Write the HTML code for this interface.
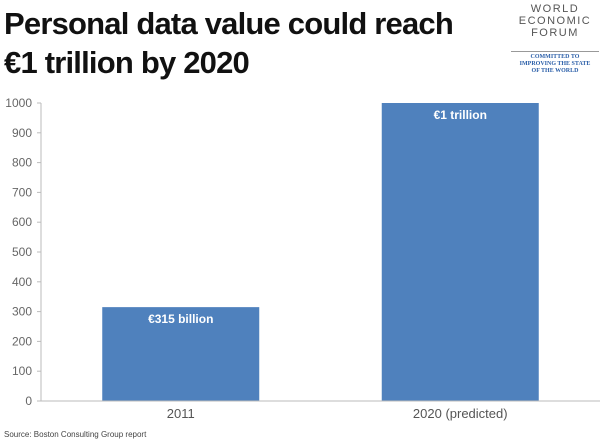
<!DOCTYPE html>
<html><head><style>
body{margin:0;width:605px;height:444px;background:#fff;overflow:hidden;font-family:"Liberation Sans",sans-serif;}
#title{position:absolute;left:4px;top:4px;font-size:31px;font-weight:bold;line-height:39px;color:#111;letter-spacing:-0.8px;margin:0}
#logo{position:absolute;left:505px;top:3px;width:100px;text-align:center;color:#555;font-size:11px;line-height:12px;letter-spacing:1.5px}
#logo .c{font-family:"Liberation Serif",serif;font-size:6px;line-height:7px;color:#2a5ea8;letter-spacing:0;border-top:1px solid #999;margin:12px 6px 0 6px;padding-top:2px;font-weight:bold}
#src{position:absolute;left:4px;top:430px;font-size:8px;color:#444}
</style></head><body>
<h1 id="title">Personal data value could reach<br>€1 trillion by 2020</h1>
<div id="logo">WORLD<br>ECONOMIC<br>FORUM<div class="c">COMMITTED TO<br>IMPROVING THE STATE<br>OF THE WORLD</div></div>
<svg id="chart" width="605" height="444" style="position:absolute;left:0;top:0"></svg>
<div id="src">Source: Boston Consulting Group report</div>
<script>
const categories=["2011","2020 (predicted)"];
const values=[315,1000];
const valueLabels=["€315 billion","€1 trillion"];
const ticks=[0,100,200,300,400,500,600,700,800,900,1000];
const svg=document.getElementById('chart');
const NS='http://www.w3.org/2000/svg';
const y0=401,y1=103,x0=41,x1=600;
const yS=v=>y0-(v/1000)*(y0-y1);
const band=(x1-x0)/categories.length;
const xC=i=>x0+band*(i+0.5);
function mk(t,a,txt){const e=document.createElementNS(NS,t);for(const k in a)e.setAttribute(k,a[k]);if(txt!==undefined)e.textContent=txt;svg.appendChild(e);return e;}
let ax=mk('line',{x1:x0,y1:y0,x2:x0,y2:y1,stroke:'#bbb'});

ticks.forEach(t=>{
 let l=mk('line',{x1:x0-4,x2:x0,y1:yS(t),y2:yS(t),stroke:'#bbb'});
 
 let tx=mk('text',{x:x0-9,y:yS(t)+4,'text-anchor':'end','font-size':'12','fill':'#666'},t);
 
});
values.forEach((v,i)=>{
 const w=157,x=xC(i)-w/2;
 let r=mk('rect',{x:x,y:yS(v),width:w,height:y0-yS(v),fill:'#4f81bd'});
 
 let lb=mk('text',{x:xC(i),y:yS(v)+16,'text-anchor':'middle','font-size':'12','font-weight':'bold','fill':'#fff'},valueLabels[i]);
 
 let cl=mk('text',{x:xC(i),y:418,'text-anchor':'middle','font-size':'13','fill':'#555'},categories[i]);
 
});
let xa=mk('line',{x1:x0,y1:y0,x2:x1,y2:y0,stroke:'#bbb'});

</script>
</body></html>
